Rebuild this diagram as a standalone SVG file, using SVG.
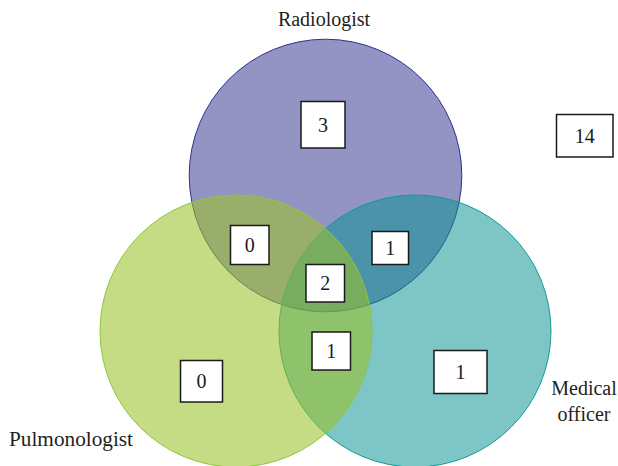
<svg xmlns="http://www.w3.org/2000/svg" width="618" height="466" viewBox="0 0 618 466">
<style>
.lbl{font-family:"Liberation Serif","Times New Roman",serif;font-size:20px;fill:#231f20}
.box rect{fill:#fff;stroke:#1a1a1a;stroke-width:1.5}
.box text{font-family:"Liberation Serif","Times New Roman",serif;font-size:20px;fill:#1a1a1a;text-anchor:middle}
</style>
<rect width="618" height="466" fill="#fff"/>
<g id="circles">
<g id="radiologist"><circle cx="325.5" cy="175.5" r="136.3" fill="#9494c4" stroke="#2e3192" stroke-width="1"/></g>
<g id="medical-officer"><circle cx="415" cy="331" r="136" fill="#059190" fill-opacity="0.52" stroke="#13999a" stroke-width="1"/></g>
<g id="pulmonologist"><circle cx="236" cy="331" r="136" fill="#9bc227" fill-opacity="0.57" stroke="#8dc63f" stroke-width="1"/></g>
</g>
<g id="labels">
<text class="lbl" x="324" y="26" text-anchor="middle">Radiologist</text>
<text class="lbl" x="9" y="446" textLength="124" lengthAdjust="spacingAndGlyphs">Pulmonologist</text>
<text class="lbl" x="584" y="395" text-anchor="middle">Medical</text>
<text class="lbl" x="584" y="421" text-anchor="middle">officer</text>
</g>
<g id="n-r" class="box"><rect x="301" y="101.5" width="44" height="46.5"/><text x="323" y="131.5">3</text></g>
<g id="n-rp" class="box"><rect x="230.5" y="225.5" width="38.5" height="39"/><text x="249.8" y="251.5">0</text></g>
<g id="n-rm" class="box"><rect x="372" y="231.5" width="36.5" height="33"/><text x="390.3" y="254.5">1</text></g>
<g id="n-all" class="box"><rect x="306" y="264.5" width="38.5" height="37.5"/><text x="325.3" y="290">2</text></g>
<g id="n-pm" class="box"><rect x="312" y="332" width="38.5" height="38"/><text x="331.3" y="357.5">1</text></g>
<g id="n-p" class="box"><rect x="180.5" y="360.5" width="42" height="41.5"/><text x="201.5" y="388">0</text></g>
<g id="n-m" class="box"><rect x="434" y="350.5" width="53" height="43"/><text x="460.5" y="378.5">1</text></g>
<g id="n-none" class="box"><rect x="556.5" y="114.5" width="56.5" height="42.5"/><text x="584.8" y="142.5">14</text></g>
</svg>
